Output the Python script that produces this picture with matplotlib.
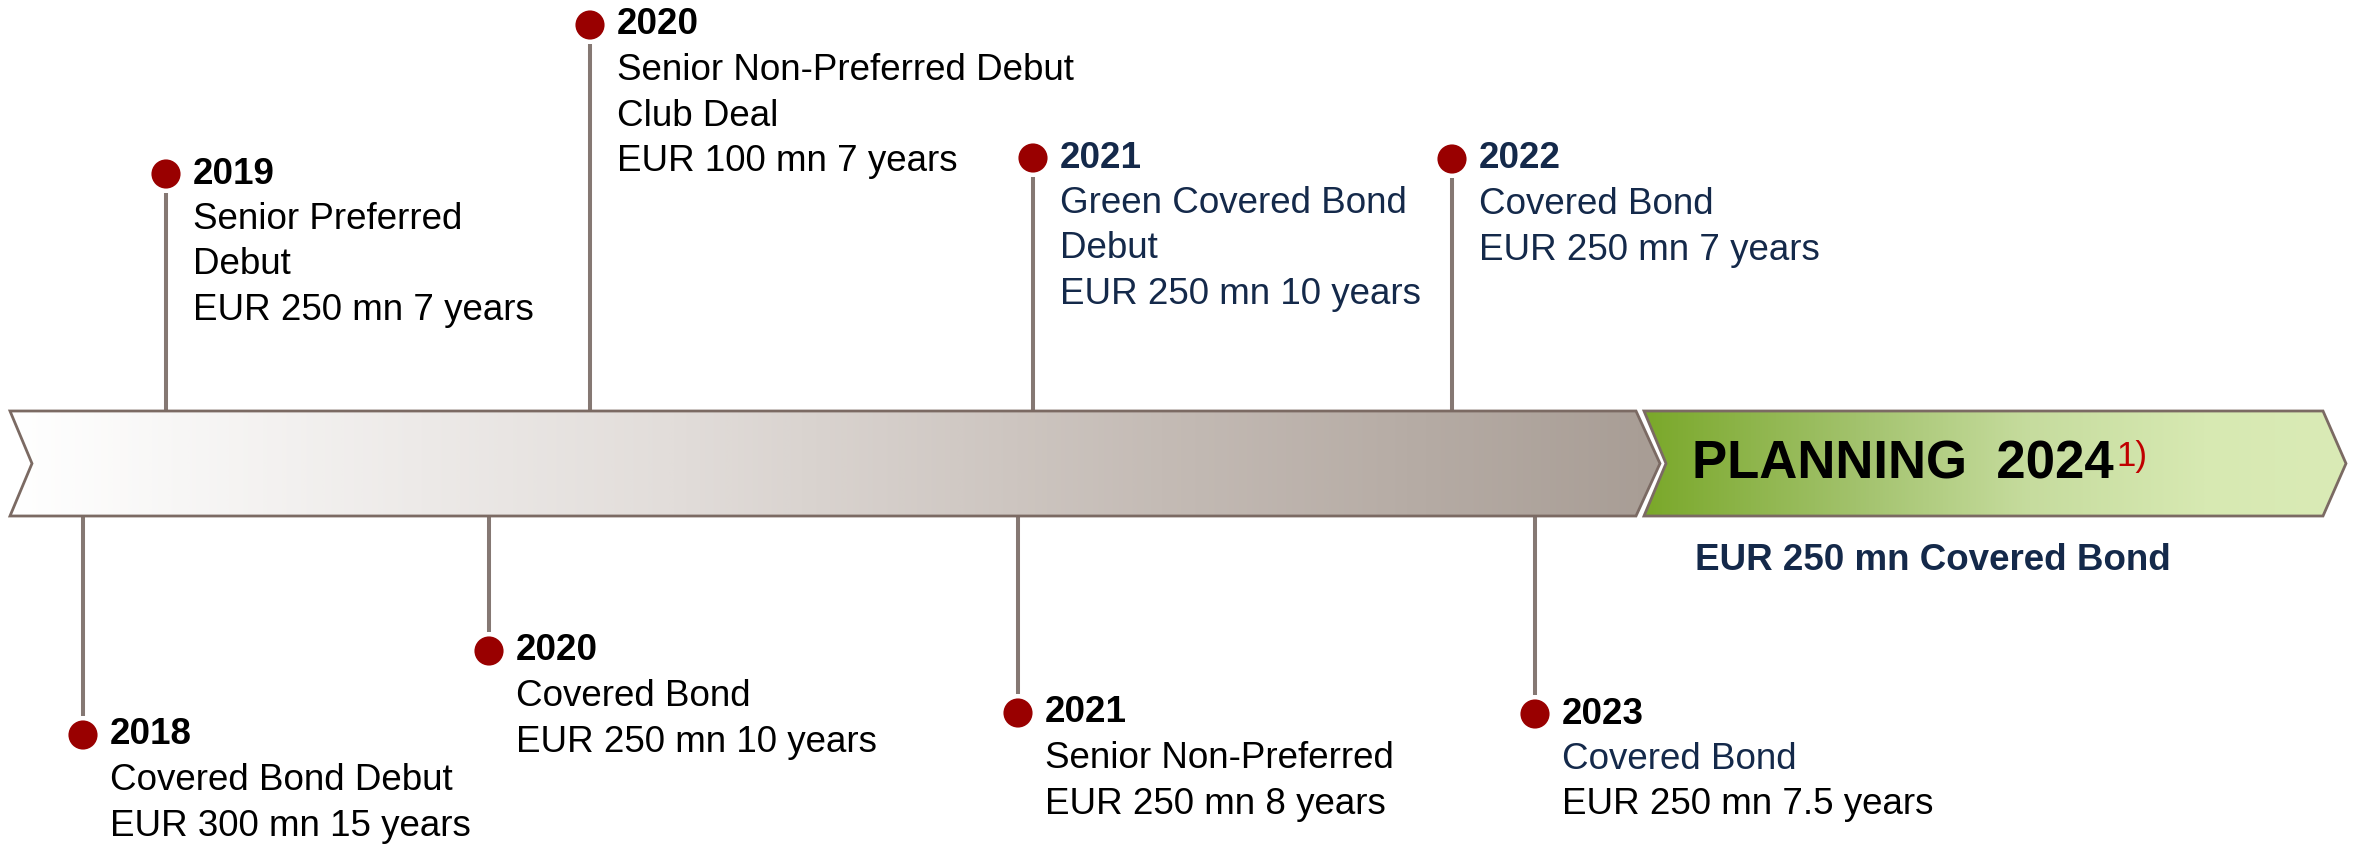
import matplotlib
matplotlib.use("Agg")
import matplotlib.pyplot as plt
import numpy as np
from matplotlib.colors import LinearSegmentedColormap
from matplotlib.patches import Polygon

plt.rcParams['font.family'] = ['Liberation Sans', 'DejaVu Sans']

# events above the timeline
top_years = ['2019', '2020', '2021', '2022']
top_lines = [
    ['Senior Preferred', 'Debut', 'EUR 250 mn 7 years'],
    ['Senior Non-Preferred Debut', 'Club Deal', 'EUR 100 mn 7 years'],
    ['Green Covered Bond', 'Debut', 'EUR 250 mn 10 years'],
    ['Covered Bond', 'EUR 250 mn 7 years'],
]
# events below the timeline
bottom_years = ['2018', '2020', '2021', '2023']
bottom_lines = [
    ['Covered Bond Debut', 'EUR 300 mn 15 years'],
    ['Covered Bond', 'EUR 250 mn 10 years'],
    ['Senior Non-Preferred', 'EUR 250 mn 8 years'],
    ['Covered Bond', 'EUR 250 mn 7.5 years'],
]
plan_title = 'PLANNING  2024'
plan_note = '1)'
plan_text = 'EUR 250 mn Covered Bond'

# layout (pixel coordinates of the 2358x847 canvas)
top_x = [166, 590, 1033, 1452]
top_y = [174, 25, 158, 159]
bottom_x = [83, 489, 1018, 1535]
bottom_y = [735, 651, 713, 714]
bar_top, bar_bot = 411, 516
bar_mid = (bar_top + bar_bot) / 2

NAVY = '#14294A'
RED = '#990000'
STEM = '#857873'
EDGE = '#7B6A63'
top_colors = [['k'] * 4, ['k'] * 4, [NAVY] * 4, [NAVY] * 3]
bottom_colors = [['k'] * 3, ['k'] * 3, ['k'] * 3, ['k', NAVY, 'k']]

fig = plt.figure(figsize=(23.58, 8.47), dpi=100)
ax = fig.add_axes([0, 0, 1, 1])
ax.set_xlim(0, 2358)
ax.set_ylim(847, 0)
ax.axis('off')


def gradient_shape(pts, colors, stops):
    poly = Polygon(pts, closed=True, facecolor='none', edgecolor=EDGE, lw=2.0, zorder=3)
    ax.add_patch(poly)
    cmap = LinearSegmentedColormap.from_list('g', list(zip(stops, colors)))
    xs = [p[0] for p in pts]
    im = ax.imshow(np.linspace(0, 1, 600)[None, :], cmap=cmap, aspect='auto',
                   extent=[min(xs), max(xs), bar_bot, bar_top], zorder=2)
    im.set_clip_path(poly)


gradient_shape([(10, bar_top), (1636, bar_top), (1660, bar_mid), (1636, bar_bot),
                (10, bar_bot), (32, bar_mid)],
               ['#FFFFFF', '#E2DDDA', '#C4BBB5', '#A89D95'], [0, 0.4, 0.7, 1])
gradient_shape([(1644, bar_top), (2323, bar_top), (2346, bar_mid), (2323, bar_bot),
                (1644, bar_bot), (1666, bar_mid)],
               ['#7AA82A', '#A2C26C', '#C6DC9E', '#D7E9B2', '#DAEBB6'], [0, 0.3, 0.55, 0.8, 1])

FS = 26.5
LS = 45.5


def draw_event(x, y, year, lines, cols, stem_to):
    if stem_to < y:
        ax.plot([x, x], [stem_to, y - 19], color=STEM, lw=2.9, solid_capstyle='butt', zorder=1)
    else:
        ax.plot([x, x], [y + 19, stem_to], color=STEM, lw=2.9, solid_capstyle='butt', zorder=1)
    ax.scatter([x], [y], s=440, color=RED, edgecolors='none', zorder=4)
    ax.text(x + 27, y, year, fontsize=FS, fontweight='bold', color=cols[0],
            va='center', ha='left', zorder=5)
    for i, line in enumerate(lines):
        ax.text(x + 27, y + LS * (i + 1), line, fontsize=FS, color=cols[i + 1],
                va='center', ha='left', zorder=5)


for x, y, yr, ln, cl in zip(top_x, top_y, top_years, top_lines, top_colors):
    draw_event(x, y, yr, ln, cl, bar_top)
for x, y, yr, ln, cl in zip(bottom_x, bottom_y, bottom_years, bottom_lines, bottom_colors):
    draw_event(x, y, yr, ln, cl, bar_bot)

t = ax.text(1692, bar_mid + 1, plan_title, fontsize=38, fontweight='bold', color='k',
            va='center', ha='left', zorder=5)
ax.annotate(plan_note, xy=(1.0, 0.5), xycoords=t, xytext=(2, 6), textcoords='offset points',
            fontsize=25, color='#C00000', va='center', ha='left', zorder=5)
ax.text(1695, 561, plan_text, fontsize=26.5, fontweight='bold', color=NAVY,
        va='center', ha='left', zorder=5)

fig.savefig('out.png', dpi=100)
